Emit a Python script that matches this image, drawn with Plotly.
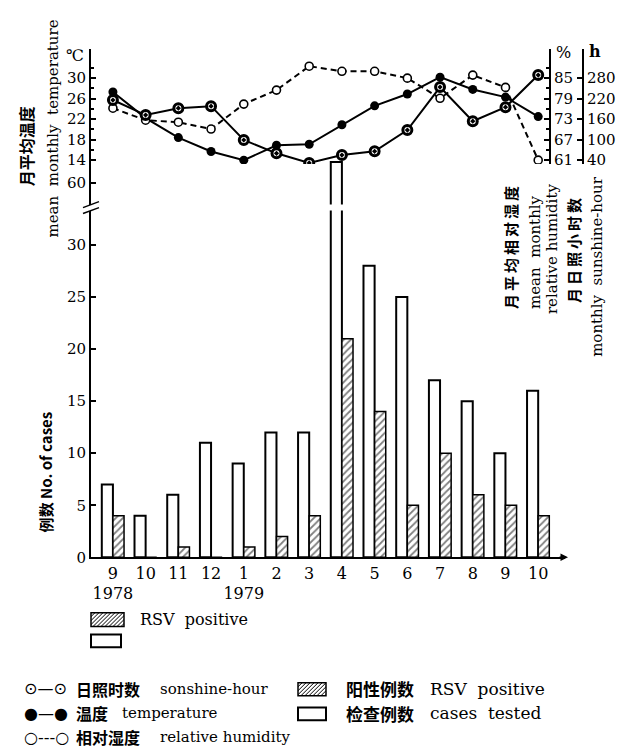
import plotly.graph_objects as go

W, H = 624, 752
def px(x): return x / W
def py(y): return 1 - y / H

# ---------------- data ----------------
months = list(range(14))
month_labels = ["9<br>1978", "10", "11", "12", "1<br>1979", "2", "3", "4", "5", "6", "7", "8", "9", "10"]
cases_tested = [7, 4, 6, 11, 9, 12, 12, 62, 28, 25, 17, 15, 10, 16]
rsv_positive = [4, 0, 1, 0, 1, 2, 4, 21, 14, 5, 10, 6, 5, 4]
temperature = [27.3, 22.2, 18.4, 15.7, 14.0, 16.9, 17.1, 20.9, 24.6, 26.9, 30.2, 27.8, 26.3, 22.5]
humidity = [76.2, 72.7, 72.1, 70.1, 77.4, 81.5, 88.5, 87.0, 87.0, 85.0, 79.1, 85.9, 82.3, 61.0]
sunshine = [216, 172, 192, 198, 99, 60, 32, 55, 66, 128, 254, 154, 195, 289]

temp_ticks = [14, 18, 22, 26, 30]
hum_ticks = [61, 67, 73, 79, 85]
sun_ticks = [40, 100, 160, 220, 280]
case_ticks = [0, 5, 10, 15, 20, 25, 30]

SERIF = "DejaVu Serif, Noto Sans CJK SC"
CJK = "Noto Sans CJK SC"

fig = go.Figure()

bar_w = 0.34
for ya in ["y", "y2"]:
    fig.add_trace(go.Bar(x=months, y=cases_tested, xaxis="x", yaxis=ya, width=bar_w, offset=-bar_w,
                         marker=dict(color="white", line=dict(color="black", width=2)),
                         showlegend=False))
fig.add_trace(go.Bar(x=months, y=rsv_positive, xaxis="x", yaxis="y", width=bar_w, offset=0,
                     marker=dict(color="white", line=dict(color="black", width=1.5),
                                 pattern=dict(shape="/", fgcolor="black", bgcolor="white",
                                              size=5, solidity=0.35)),
                     showlegend=False))

# lines
fig.add_trace(go.Scatter(x=months, y=humidity, xaxis="x2", yaxis="y4", mode="lines+markers",
                         line=dict(color="black", width=2, dash="6px,4px"),
                         marker=dict(symbol="circle", size=8, color="white",
                                     line=dict(color="black", width=1.6)),
                         showlegend=False))
fig.add_trace(go.Scatter(x=months, y=temperature, xaxis="x2", yaxis="y3", mode="lines+markers",
                         line=dict(color="black", width=2),
                         marker=dict(symbol="circle", size=9, color="black"),
                         showlegend=False))
fig.add_trace(go.Scatter(x=months, y=sunshine, xaxis="x2", yaxis="y5", mode="lines+markers",
                         line=dict(color="black", width=2),
                         marker=dict(symbol="circle-dot", size=9, color="white",
                                     line=dict(color="black", width=3)),
                         showlegend=False))

axis_common = dict(showline=True, linewidth=2, linecolor="black", showgrid=False, zeroline=False,
                   ticks="inside", ticklen=5, tickwidth=1.5, tickcolor="black",
                   tickfont=dict(family=SERIF, size=15, color="black"))

t_lo, t_hi = 13.23, 35.59
fig.update_layout(
    width=W, height=H, margin=dict(l=0, r=0, t=0, b=0),
    paper_bgcolor="white", plot_bgcolor="rgba(0,0,0,0)",
    barmode="overlay", showlegend=False,
    font=dict(family=SERIF, size=15, color="black"),
    xaxis=dict(domain=[px(83), px(557)], range=[-0.67, 13.82], anchor="y",
               showline=True, linewidth=2, linecolor="black", showgrid=False, zeroline=False,
               tickvals=months, ticktext=month_labels, ticks="",
               tickfont=dict(family=SERIF, size=16, color="black")),
    yaxis=dict(domain=[py(556), py(205)], range=[0, 33.3], anchor="x",
               tickvals=case_ticks, **axis_common),
    yaxis2=dict(domain=[py(199), py(150)], range=[57.9, 62.55], anchor="x",
                tickvals=[60], **axis_common),
    xaxis2=dict(domain=[px(83), px(541)], range=[-0.67, 13.33], anchor="y3", visible=False),
    yaxis3=dict(domain=[py(158), py(42)], range=[t_lo, t_hi], anchor="x2", side="left",
                tickvals=temp_ticks,
                minor=dict(tickvals=[16, 20, 24, 28, 32], ticks="inside", ticklen=3, tickcolor="black"),
                **axis_common),
    yaxis4=dict(overlaying="y3", side="right", anchor="x2",
                range=[61 + (t_lo - 14) * 1.5, 61 + (t_hi - 14) * 1.5],
                tickvals=hum_ticks,
                minor=dict(tickvals=[64, 70, 76, 82, 88], ticks="inside", ticklen=3, tickcolor="black"),
                **axis_common),
    yaxis5=dict(overlaying="y3", side="right", anchor="free", position=px(575),
                range=[40 + (t_lo - 14) * 15, 40 + (t_hi - 14) * 15],
                tickvals=sun_ticks, **axis_common),
)

ann = []
def A(x, y, text, size=15, family=SERIF, angle=0, xanchor="center", yanchor="middle"):
    ann.append(dict(x=px(x), y=py(y), xref="paper", yref="paper", text=text, showarrow=False,
                    textangle=angle, xanchor=xanchor, yanchor=yanchor,
                    font=dict(family=family, size=size, color="black")))

def spaced(s):
    return "\u2009".join(s)

# units
A(67, 48, "℃", 16)
A(555, 45, "%", 16)
A(587, 44, "<b>h</b>", 16)

# axis titles
A(18, 140, "<b>月平均温度</b>", 16, CJK, -90)
A(45, 122, "mean  monthly  temperature", 15, SERIF, -90)
A(37, 470, "<b>例数 No. of cases</b>", 15, CJK, -90)
A(502, 243, "<b>" + spaced("月平均相对湿度") + "</b>", 15, CJK, -90)
A(527, 247, "mean  monthly", 15, SERIF, -90)
A(544, 244, "relative humidity", 15, SERIF, -90)
A(565, 246, "<b>" + spaced("月日照小时数") + "</b>", 15, CJK, -90)
A(589, 262, "monthly  sunshine-hour", 15, SERIF, -90)

# inner legend
A(130, 619, "RSV  positive", 16, SERIF, 0, "left")

# bottom legend
r1, r2, r3 = 689, 714, 738
A(14, r1, "⊙—⊙", 16, "DejaVu Sans", 0, "left")
A(66, r1, "<b>日照时数</b>", 16, CJK, 0, "left")
A(150, r1, "sonshine-hour", 15, SERIF, 0, "left")
A(14, r2, "●—●", 16, "DejaVu Sans", 0, "left")
A(66, r2, "<b>温度</b>", 16, CJK, 0, "left")
A(112, r2, "temperature", 15, SERIF, 0, "left")
A(14, r3, "○---○", 16, "DejaVu Sans", 0, "left")
A(66, r3, "<b>相对湿度</b>", 16, CJK, 0, "left")
A(150, r3, "relative humidity", 15, SERIF, 0, "left")
A(336, r1, "<b>阳性例数</b>", 17, CJK, 0, "left")
A(420, r1, "RSV  positive", 17, SERIF, 0, "left")
A(336, r2, "<b>检查例数</b>", 17, CJK, 0, "left")
A(420, r2, "cases  tested", 17, SERIF, 0, "left")

# axis arrow
ann.append(dict(x=px(560), y=py(556), xref="paper", yref="paper", text="", showarrow=True,
                ax=-10, ay=0, arrowhead=2, arrowsize=1, arrowwidth=1.5, arrowcolor="black"))

fig.update_layout(annotations=ann)

shapes = []
def line(x0, y0, x1, y1, w=1.5):
    shapes.append(dict(type="line", xref="paper", yref="paper", x0=px(x0), y0=py(y0),
                       x1=px(x1), y1=py(y1), line=dict(color="black", width=w)))
def rect(x0, y0, x1, y1, w=2):
    shapes.append(dict(type="rect", xref="paper", yref="paper", x0=px(x0), y0=py(y0),
                       x1=px(x1), y1=py(y1), line=dict(color="black", width=w), fillcolor="white"))
def hatched(x0, y0, x1, y1, step=4):
    rect(x0, y0, x1, y1, 1.5)
    c = x0 + y0 + step
    while c < x1 + y1:
        xa = max(x0, c - y1); xb = min(x1, c - y0)
        if xb > xa:
            line(xa, c - xa, xb, c - xb, 1)
        c += step

# axis break marks
line(75, 202, 91, 196, 1.5)
line(75, 208, 91, 202, 1.5)

# legend boxes
hatched(83, 612, 116, 626)
rect(83, 634, 113, 647)
hatched(290, 683, 318, 696)
rect(290, 708, 318, 721)

fig.update_layout(shapes=shapes)

fig.write_html("out.html")
